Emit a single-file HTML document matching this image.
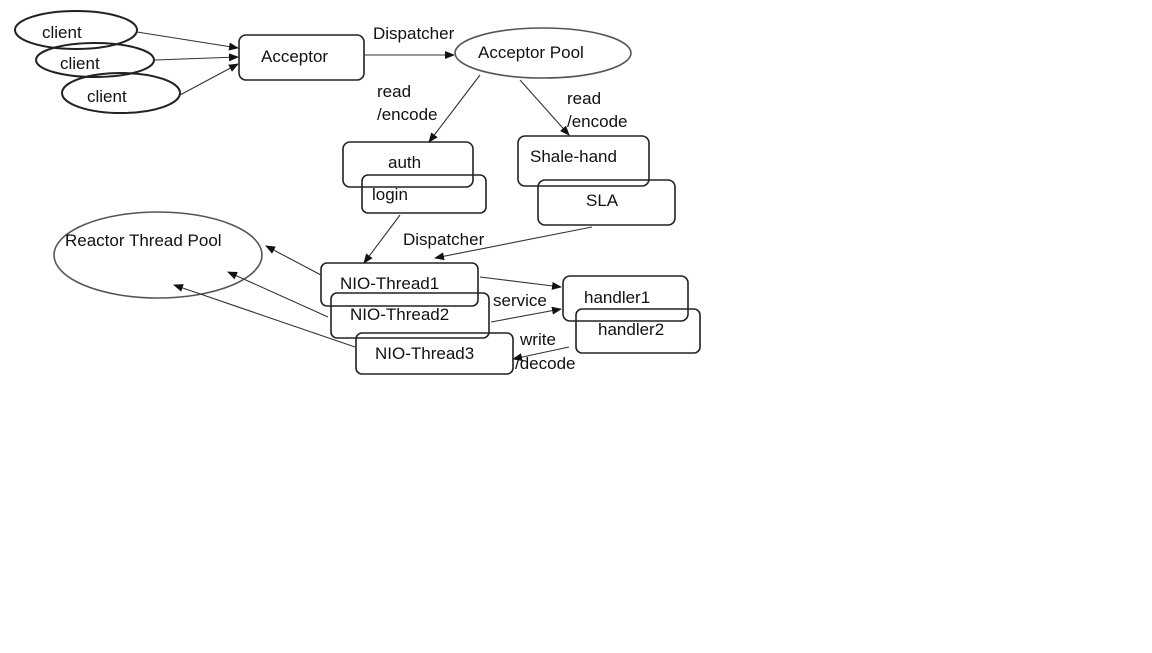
<!DOCTYPE html>
<html><head><meta charset="utf-8"><style>
body{margin:0;background:#fff;width:1152px;height:648px;overflow:hidden}
text{font-family:"Liberation Sans",sans-serif;font-size:17px;fill:#111}
</style></head><body>
<svg width="1152" height="648" viewBox="0 0 1152 648" xmlns="http://www.w3.org/2000/svg">
<defs><marker id="a" markerWidth="10" markerHeight="8" refX="9" refY="4" orient="auto" markerUnits="userSpaceOnUse"><path d="M0,0 L10,4 L0,8 z" fill="#111"/></marker></defs>
<g fill="none" stroke="#222" stroke-width="1.6">
<ellipse cx="76" cy="30" rx="61" ry="19" stroke-width="2"/>
<ellipse cx="95" cy="60" rx="59" ry="17" stroke-width="2"/>
<ellipse cx="121" cy="93" rx="59" ry="20" stroke-width="2"/>
<rect x="239" y="35" width="125" height="45" rx="7"/>
<ellipse cx="543" cy="53" rx="88" ry="25" stroke="#555"/>
<rect x="343" y="142" width="130" height="45" rx="7"/>
<rect x="362" y="175" width="124" height="38" rx="6"/>
<rect x="518" y="136" width="131" height="50" rx="7"/>
<rect x="538" y="180" width="137" height="45" rx="7"/>
<ellipse cx="158" cy="255" rx="104" ry="43" stroke="#555"/>
<rect x="321" y="263" width="157" height="43" rx="6"/>
<rect x="331" y="293" width="158" height="45" rx="6"/>
<rect x="356" y="333" width="157" height="41" rx="6"/>
<rect x="563" y="276" width="125" height="45" rx="7"/>
<rect x="576" y="309" width="124" height="44" rx="6"/>
</g>
<g stroke="#333" stroke-width="1.1" marker-end="url(#a)">
<line x1="137" y1="32" x2="238" y2="48"/>
<line x1="155" y1="60" x2="238" y2="57"/>
<line x1="180" y1="95" x2="238" y2="64"/>
<line x1="364" y1="55" x2="454" y2="55"/>
<line x1="480" y1="75" x2="429" y2="142"/>
<line x1="520" y1="80" x2="569" y2="135"/>
<line x1="400" y1="215" x2="364" y2="263"/>
<line x1="592" y1="227" x2="435" y2="258"/>
<line x1="321" y1="275" x2="266" y2="246"/>
<line x1="328" y1="317" x2="228" y2="272"/>
<line x1="355" y1="347" x2="174" y2="285"/>
<line x1="480" y1="277" x2="561" y2="287"/>
<line x1="491" y1="322" x2="561" y2="309"/>
<line x1="569" y1="347" x2="513" y2="359"/>
</g>
<text x="42" y="38">client</text>
<text x="60" y="69">client</text>
<text x="87" y="102">client</text>
<text x="261" y="62">Acceptor</text>
<text x="373" y="39">Dispatcher</text>
<text x="478" y="58">Acceptor Pool</text>
<text x="377" y="97">read</text>
<text x="377" y="120">/encode</text>
<text x="567" y="104">read</text>
<text x="567" y="127">/encode</text>
<text x="388" y="168">auth</text>
<text x="372" y="200">login</text>
<text x="530" y="162">Shale-hand</text>
<text x="586" y="206">SLA</text>
<text x="65" y="246">Reactor Thread Pool</text>
<text x="403" y="245">Dispatcher</text>
<text x="340" y="289">NIO-Thread1</text>
<text x="350" y="320">NIO-Thread2</text>
<text x="375" y="359">NIO-Thread3</text>
<text x="493" y="306">service</text>
<text x="584" y="303">handler1</text>
<text x="598" y="335">handler2</text>
<text x="520" y="345">write</text>
<text x="515" y="369">/decode</text>
</svg>
</body></html>
